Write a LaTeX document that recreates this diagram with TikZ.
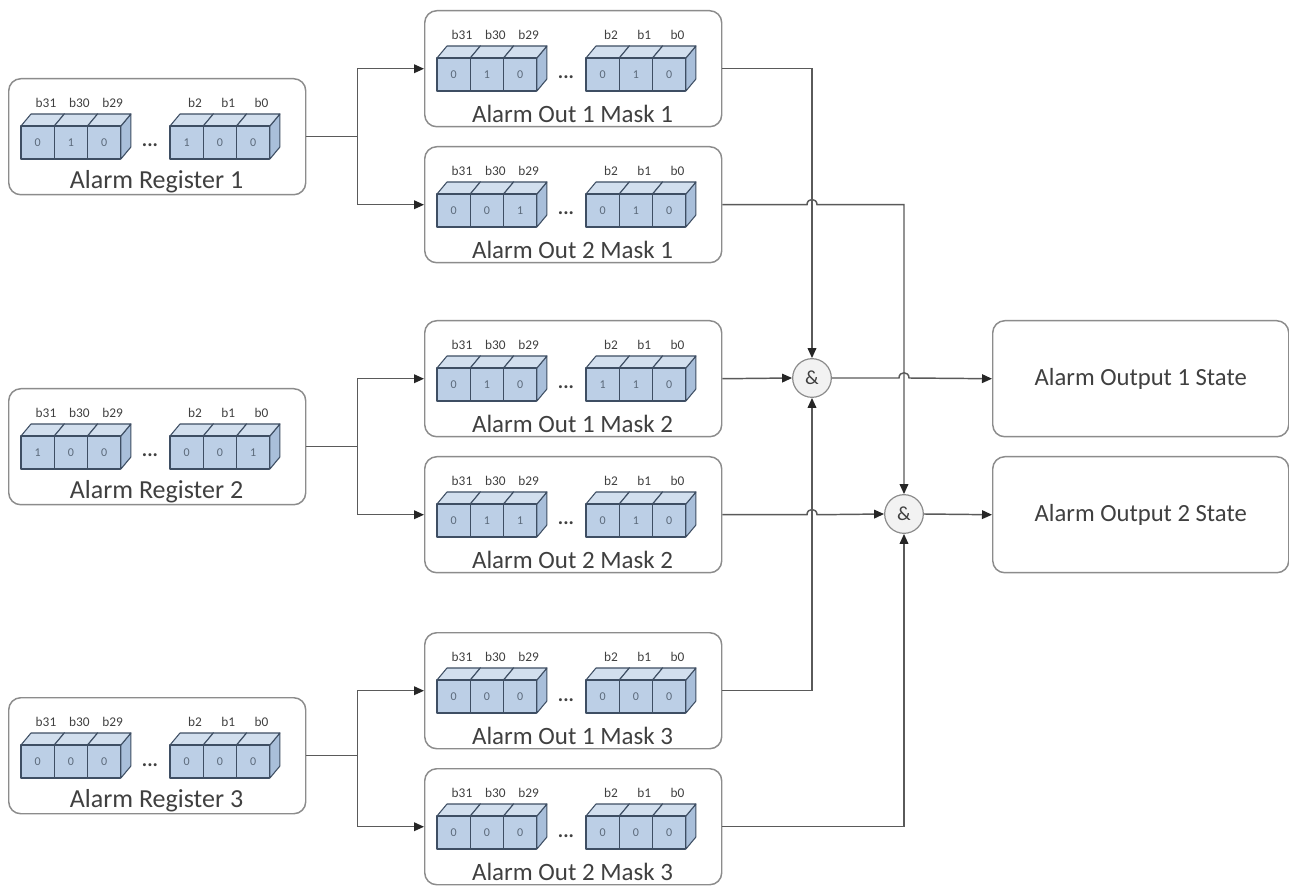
\documentclass[tikz,border=0pt]{standalone}
\usepackage{fontspec}
\setmainfont{Carlito}
\usetikzlibrary{arrows.meta,calc}
\definecolor{boxline}{HTML}{8C8C8C}
\definecolor{conncol}{HTML}{5A5A5A}
\definecolor{txt}{HTML}{404040}
\definecolor{cubefront}{HTML}{BCCFE6}
\definecolor{cubetop}{HTML}{D2DFEE}
\definecolor{cubeside}{HTML}{A9BFDA}
\definecolor{cubeedge}{HTML}{3E4E63}
\definecolor{gatefill}{HTML}{F2F2F2}
\tikzset{
 panel/.style={draw=boxline, line width=1.1pt, rounded corners=9pt, fill=white, anchor=north west, minimum width=222.75pt, minimum height=87pt, inner sep=0pt},
 outpanel/.style={panel, minimum width=222pt, font=\fontsize{18.5}{22}\selectfont, text=txt},
 title/.style={text=txt, inner sep=0pt},
 bitlbl/.style={font=\fontsize{10}{12}\selectfont, text=txt, inner sep=0pt},
 bitval/.style={font=\fontsize{9}{10}\selectfont, text=cubeedge!85, inner sep=0pt},
 cubeface/.style={draw=cubeedge, line width=0.8pt, line join=round},
 conn/.style={draw=conncol, line width=1.1pt},
 arr/.style={conn, -{Triangle[length=7.5pt,width=6.5pt,color=black!85]}},
 gate/.style={circle, draw=boxline, fill=gatefill, line width=0.9pt, minimum size=29pt, inner sep=0pt, font=\fontsize{15}{16}\selectfont, text=txt},
}
\newcommand\regpanel[6]{%
 \node[panel] (#1) at (#2,#3) {};
 \node[title, font=\fontsize{#6}{22}\selectfont] (#1-t) at (#2+148.5,#3+104) {#4};
 \node[font=\fontsize{15}{15}\selectfont\bfseries, text=txt, anchor=base, inner sep=0pt] (#1-dots) at (#2+142,#3+69) {...};
 \foreach \b [count=\i from 0] in {#5} {
   \pgfmathsetmacro\cx{#2+(\i<3 ? 13+33.3*\i : 162+33.3*(\i-3))}
   \pgfmathsetmacro\fy{#3+48}
   \path[cubeface, fill=cubeside] (\cx+33.3,\fy) -- ++(10,-12) -- ++(0,33) -- ++(-10,12) -- cycle;
   \path[cubeface, fill=cubetop] (\cx,\fy) -- ++(10,-12) -- ++(33.3,0) -- ++(-10,12) -- cycle;
   \path[cubeface, fill=cubefront] (\cx,\fy) rectangle ++(33.3,33);
   \node[bitval] (#1-v\i) at (\cx+16.6,\fy+16.5) {\b};
   \node[bitlbl] (#1-l\i) at (\cx+25,#3+25) {\ifcase\i b31\or b30\or b29\or b2\or b1\or b0\fi};
 }
}
\begin{document}
\begin{tikzpicture}[x=0.75pt,y=-0.75pt]
\useasboundingbox (0,0) rectangle (1289,887);
\fill[white] (0,0) rectangle (1289,887);

\regpanel{r1}{8}{78}{Alarm Register 1}{0,1,0,1,0,0}{19.5}
\regpanel{r2}{8}{388}{Alarm Register 2}{1,0,0,0,0,1}{19.5}
\regpanel{r3}{8}{697}{Alarm Register 3}{0,0,0,0,0,0}{19.5}
\regpanel{m11}{424}{10}{Alarm Out 1 Mask 1}{0,1,0,0,1,0}{18.7}
\regpanel{m21}{424}{146}{Alarm Out 2 Mask 1}{0,0,1,0,1,0}{18.7}
\regpanel{m12}{424}{320}{Alarm Out 1 Mask 2}{0,1,0,1,1,0}{18.7}
\regpanel{m22}{424}{456}{Alarm Out 2 Mask 2}{0,1,1,0,1,0}{18.7}
\regpanel{m13}{424}{632}{Alarm Out 1 Mask 3}{0,0,0,0,0,0}{18.7}
\regpanel{m23}{424}{768}{Alarm Out 2 Mask 3}{0,0,0,0,0,0}{18.7}

\node[outpanel] (o1) at (992,320) {Alarm Output 1 State};
\node[outpanel] (o2) at (992,456) {Alarm Output 2 State};

\node[gate] (g1) at (812,378) {\&};
\node[gate] (g2) at (904,514) {\&};

% registers to masks
\draw[conn] (r1.east) -- ++(51,0) coordinate (r1j);
\draw[arr] (r1j) |- (m11.west);
\draw[arr] (r1j) |- (m21.west);
\draw[conn] (r2.east) -- ++(51,0) coordinate (r2j);
\draw[arr] (r2j) |- (m12.west);
\draw[arr] (r2j) |- (m22.west);
\draw[conn] (r3.east) -- ++(51,0) coordinate (r3j);
\draw[arr] (r3j) |- (m13.west);
\draw[arr] (r3j) |- (m23.west);

% masks to gates
\draw[arr] (m11.east) -| (g1.north);
\draw[arr] (m12.east) -- (g1.west);
\draw[arr] (m13.east) -| (g1.south);
\draw[arr] (m21.east) -- ($(m21.east -| g1)+(-5,0)$) .. controls +(0,-7) and +(0,-7) .. ++(10,0) -- (m21.east -| g2) -- (g2.north);
\draw[arr] (m22.east) -- ($(m22.east -| g1)+(-5,0)$) .. controls +(0,-7) and +(0,-7) .. ++(10,0) -- (g2.west);
\draw[arr] (m23.east) -- (m23.east -| g2) -- (g2.south);

% gates to outputs
\draw[arr] (g1.east) -- ($(g1.east -| g2)+(-5,0)$) .. controls +(0,-7) and +(0,-7) .. ++(10,0) -- (o1.west);
\draw[arr] (g2.east) -- (o2.west);
\end{tikzpicture}
\end{document}
